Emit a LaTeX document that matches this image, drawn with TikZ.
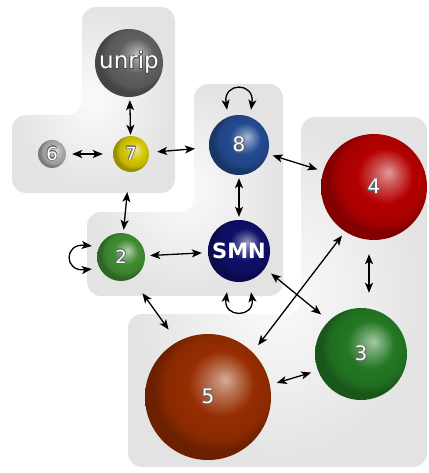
\documentclass[tikz,border=0pt]{standalone}
\usepackage{fontspec}
\setmainfont{DejaVu Sans}
\usepackage{contour}
\contourlength{0.7pt}
\usetikzlibrary{arrows.meta,calc}

\pgfdeclareradialshading[ballc]{sph}{\pgfqpoint{7bp}{7bp}}{%
 color(0bp)=(ballc!40!white);
 color(5bp)=(ballc!65!white);
 color(13bp)=(ballc);
 color(21bp)=(ballc!92!black);
 color(25bp)=(ballc!72!black);
 color(50bp)=(ballc!72!black)}
\colorlet{ballc}{gray}

\definecolor{cUnrip}{RGB}{96,96,96}
\definecolor{cSix}{RGB}{170,170,170}
\definecolor{cSeven}{RGB}{212,198,0}
\definecolor{cEight}{RGB}{35,75,145}
\definecolor{cSMN}{RGB}{15,15,105}
\definecolor{cTwo}{RGB}{65,140,50}
\definecolor{cFour}{RGB}{180,0,0}
\definecolor{cThree}{RGB}{35,120,35}
\definecolor{cFive}{RGB}{150,45,0}

\tikzset{
 panel/.style={rounded corners=14pt, shading=radial, inner color=gray!3, outer color=gray!22},
 sphere/.style={circle, inner sep=0pt, minimum size=#1, shading=sph, text=white},
 ballcolor/.code={\colorlet{ballc}{#1}},
 digit/.style={font=\fontsize{20}{20}\selectfont},
 arr/.style={{Stealth[length=10pt,width=8pt,inset=2.5pt]}-{Stealth[length=10pt,width=8pt,inset=2.5pt]}, line width=1.3pt, black}
}

\begin{document}
\begin{tikzpicture}[x=1pt,y=-1pt]
\useasboundingbox (0,0) rectangle (428,473);

% panels
\path[panel] (82,7) -- (175,7) -- (175,193) -- (12,193) -- (12,115) -- (82,115) -- cycle;
\path[panel] (194,84) -- (283,84) -- (283,296) -- (87,296) -- (87,212) -- (194,212) -- cycle;
\path[panel] (301,117) -- (427,117) -- (427,467) -- (128,467) -- (128,314) -- (301,314) -- cycle;

% spheres
\node[sphere=68pt, ballcolor=cUnrip, font=\fontsize{23}{23}\selectfont] (unrip) at (129,63) {\contour{black!70}{unrip}};
\node[sphere=28pt, ballcolor=cSix, font=\fontsize{18}{18}\selectfont] (n6) at (52,154) {\contour{black!60}{6}};
\node[sphere=36pt, ballcolor=cSeven, font=\fontsize{18}{18}\selectfont] (n7) at (131,154) {\contour{black!60}{7}};
\node[sphere=60pt, ballcolor=cEight, digit] (n8) at (239,145) {\contour{black!60}{8}};
\node[sphere=62pt, ballcolor=cSMN, font=\bfseries\fontsize{21}{21}\selectfont] (smn) at (239,251) {SMN};
\node[sphere=48pt, ballcolor=cTwo, font=\fontsize{18}{18}\selectfont] (n2) at (121,257) {\contour{black!60}{2}};
\node[sphere=106pt, ballcolor=cFour, digit] (n4) at (374,187) {\contour{black!60}{4}};
\node[sphere=92pt, ballcolor=cThree, digit] (n3) at (361,354) {\contour{black!60}{3}};
\node[sphere=126pt, ballcolor=cFive, digit] (n5) at (208,397) {\contour{black!60}{5}};

% connectors
\draw[arr, shorten <=3pt, shorten >=1pt] (unrip) -- (n7);
\draw[arr, shorten <=6pt, shorten >=10pt] (n6) -- (n7);
\draw[arr, shorten <=8pt, shorten >=14pt] (n7) -- (n8);
\draw[arr, shorten <=20pt, shorten >=3pt] (n7) -- (n2);
\draw[arr, shorten <=5pt, shorten >=6pt] (n8) -- (n4);
\draw[arr, shorten <=3pt, shorten >=3pt] (n8) -- (smn);
\draw[arr, shorten <=5pt, shorten >=6pt] (n2) -- (smn);
\draw[arr, shorten <=8pt, shorten >=10pt] (smn.-34) -- (n3.134);
\draw[arr, shorten <=5pt, shorten >=9pt] (n4.-123) -- (n5.45);
\draw[arr] ($(n4.south)+(-5,14)$) -- ($(n3.north)+(8,-15)$);
\draw[arr, shorten <=18pt, shorten >=15pt] (n2.-63) -- (n5.119);
\draw[arr, shorten <=7pt, shorten >=7pt] (n5.11) -- (n3.201);

% self loops
\draw[arr] ($(n8.north)+(-12,-5)$) .. controls ($(n8.north)+(-16,-33)$) and ($(n8.north)+(16,-33)$) .. ($(n8.north)+(12,-5)$);
\draw[arr] ($(smn.south)+(-12,10)$) .. controls ($(smn.south)+(-16,36)$) and ($(smn.south)+(16,36)$) .. ($(smn.south)+(12,10)$);
\draw[arr] ($(n2.west)+(-5,-11)$) .. controls ($(n2.west)+(-33,-14)$) and ($(n2.west)+(-33,15)$) .. ($(n2.west)+(-5,12)$);
\end{tikzpicture}
\end{document}
